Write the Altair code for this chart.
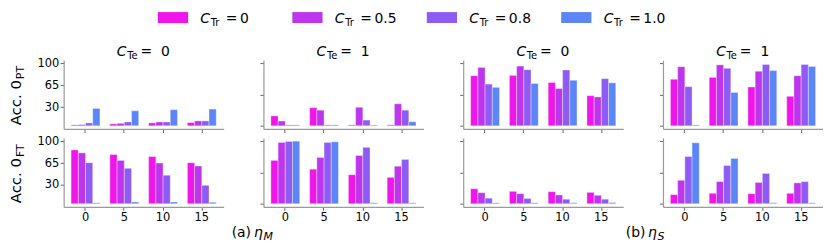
import altair as alt
import pandas as pd

FONT = "DejaVu Sans"

eta_levels = [0, 5, 10, 15]
ctr_levels = ["0", "0.5", "0.8", "1.0"]
colors = ["#f015ea", "#bd36ee", "#8e5cf5", "#5c86f8"]

# each panel: rows = C_Tr series (0, 0.5, 0.8, 1.0), columns = eta (0, 5, 10, 15)
m_te0_pt = [[1.5, 3, 4.7, 5.2], [2, 4, 6.3, 7.9], [4.7, 6.3, 6.3, 7.9], [27.8, 24, 25.8, 26.8]]
m_te1_pt = [[15.8, 29, 1.5, 1.5], [7.7, 25, 29.6, 35.2], [1.5, 1.5, 9.2, 25], [1.5, 1.5, 1.5, 6.6]]
s_te0_pt = [[80, 80.5, 69.2, 48.2], [93.3, 95.4, 59.5, 46.2], [66.7, 89.7, 89.2, 75.4], [61.5, 67.7, 72.8, 68.7]]
s_te1_pt = [[74.4, 77.4, 62, 47.2], [94.4, 97.4, 87.2, 80], [62.6, 91.8, 98, 98], [1.5, 53.3, 88.2, 94.9]]
m_te0_ft = [[85.9, 78.6, 75.4, 65.5], [81.2, 69.2, 65, 60.3], [65.5, 56.6, 45.7, 29.5], [1.5, 2.8, 2.8, 2.3]]
m_te1_ft = [[69.3, 55.2, 46.4, 42.2], [97.9, 74, 77.1, 60], [99.5, 97.9, 90.1, 70.8], [100, 99, 1.5, 1.5]]
s_te0_ft = [[24, 19.8, 19.3, 18.2], [17.7, 16.1, 14, 13.5], [8.9, 8.3, 7.3, 7.3], [1.5, 1.5, 1.5, 2]]
s_te1_ft = [[14.6, 16.7, 16.1, 16.7], [37.5, 35.4, 33.9, 33.3], [75.5, 61, 48.4, 35.4], [97.4, 72.4, 1.5, 1.5]]

col_titles = ["0", "1", "0", "1"]
row_subs = ["PT", "FT"]
captions = {1: ("(a)", "M"), 3: ("(b)", "S")}

W, H = 161, 69.3
one = pd.DataFrame({"k": [0]})
color_scale = alt.Scale(domain=ctr_levels, range=colors)


def txt(text, x, y, size=14, italic=False, dx=0, dy=0, angle=0, align="left"):
    kw = dict(text=text, font=FONT, fontSize=size, align=align, baseline="alphabetic",
              dx=dx, dy=dy, color="black")
    if italic:
        kw["fontStyle"] = "italic"
    if angle:
        kw["angle"] = angle
    return alt.Chart(one).mark_text(**kw).encode(x=alt.value(x), y=alt.value(y))


# legend (drawn inside the first panel, above the plots)
leg_df = pd.DataFrame({"ctr": ctr_levels})
lx = alt.X("ctr:N", scale=alt.Scale(type="point", domain=ctr_levels, range=[110, 515.8], padding=0),
           axis=None)
leg_base = alt.Chart(leg_df)
LEG_Y = 16.2 - 59


def leg_txt(dx, size=14, italic=False, dy=0, text=None, field=False):
    kw = dict(font=FONT, fontSize=size, align="left", baseline="alphabetic", dx=dx, dy=dy,
              color="black")
    if italic:
        kw["fontStyle"] = "italic"
    if not field:
        kw["text"] = text
    enc = dict(x=lx, y=alt.value(LEG_Y + 5.4))
    if field:
        enc["text"] = alt.Text("ctr:N")
    return leg_base.mark_text(**kw).encode(**enc)


legend_layers = [
    leg_base.mark_point(shape="M-1,-0.362H1V0.362H-1Z", size=924, filled=True,
                        opacity=1, strokeWidth=0).encode(
        x=lx, y=alt.value(LEG_Y), color=alt.Color("ctr:N", scale=color_scale, legend=None)),
    leg_txt(27.5, italic=True, text="C"),
    leg_txt(38, size=10, dy=3.3, text="Tr"),
    leg_txt(53.2, text="="),
    leg_txt(67.4, field=True),
]


def panel(vals, col, row):
    recs = []
    for ci, c in enumerate(ctr_levels):
        for ei, e in enumerate(eta_levels):
            recs.append({"eta": e, "ctr": c, "acc": vals[ci][ei]})
    df = pd.DataFrame(recs)
    first = col == 0
    bottom = row == 1
    yaxis = alt.Axis(values=[30, 65, 100] if first else [0, 50, 100], labels=first,
                     title=None, grid=False)
    xaxis = alt.Axis(labels=bottom, title=None, labelAngle=0, grid=False)
    bars = alt.Chart(df).mark_bar(stroke="white", strokeWidth=0.6, strokeOpacity=0.6).encode(
        x=alt.X("eta:O", sort=eta_levels,
                scale=alt.Scale(paddingInner=0.256, paddingOuter=0.192), axis=xaxis),
        xOffset=alt.XOffset("ctr:N", sort=ctr_levels,
                            scale=alt.Scale(paddingInner=0, paddingOuter=0)),
        y=alt.Y("acc:Q", scale=alt.Scale(domain=[-5, 105], nice=False, zero=False), axis=yaxis),
        y2=alt.datum(0),
        color=alt.Color("ctr:N", scale=color_scale, legend=None),
    )
    layers = [bars]
    if row == 0:
        cx = W / 2
        layers += [
            txt("C", cx, -4, italic=True, dx=-27),
            txt("Te", cx, -4, size=10, dx=-16.6, dy=3.3),
            txt("=", cx, -4, dx=-3.3),
            txt(col_titles[col], cx, -4, dx=17.5),
        ]
    if first:
        layers += [
            txt("Acc. 0", -43.3, H / 2, size=15, angle=270, dx=-31),
            txt(row_subs[row], -43.3, H / 2, size=11, angle=270, dx=15.5, dy=3.3),
        ]
    if bottom and col in captions:
        lab, sub = captions[col]
        x0 = -32 if col == 1 else -37.5
        layers += [
            txt(lab, x0, H + 30),
            txt("η", x0 + 22.5, H + 30, italic=True),
            txt(sub, x0 + 32, H + 30, size=11, italic=True, dy=3.3),
        ]
    if first and row == 0:
        layers += legend_layers
        return alt.layer(*layers).resolve_scale(x="independent").properties(width=W, height=H)
    return alt.layer(*layers).properties(width=W, height=H)


panels = [
    panel(m_te0_pt, 0, 0), panel(m_te1_pt, 1, 0), panel(s_te0_pt, 2, 0), panel(s_te1_pt, 3, 0),
    panel(m_te0_ft, 0, 1), panel(m_te1_ft, 1, 1), panel(s_te0_ft, 2, 1), panel(s_te1_ft, 3, 1),
]

chart = alt.concat(*panels, columns=4, spacing={"row": 8.4, "column": 40}, bounds="flush").properties(
    padding={"left": 0, "top": 2.7, "right": 0, "bottom": 0}
).configure_view(stroke=None).configure_axis(
    domainColor="#9a9a9a", domainWidth=1.2, tickColor="#666666", tickWidth=1, tickSize=3.5,
    labelFont=FONT, labelFontSize=11.5, labelColor="black", labelPadding=1.5,
)

chart.save("out.html", embed_options={"renderer": "svg", "actions": False})
